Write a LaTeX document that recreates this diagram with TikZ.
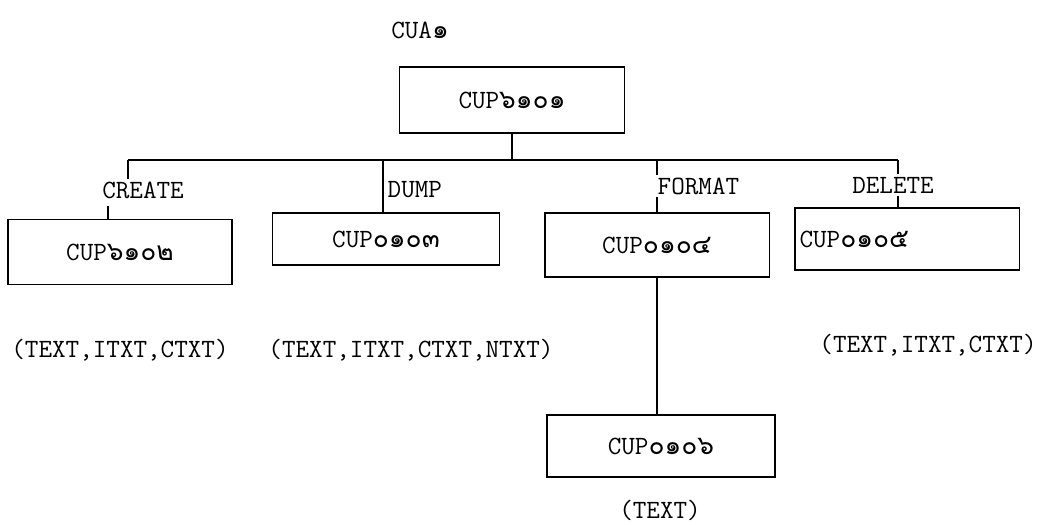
\documentclass[tikz,border=0pt]{standalone}
\usepackage{fontspec}
\newfontfamily\thaifont[Script=Thai]{Loma}
\newcommand{\tdig}[1]{{\thaifont #1}}
\usetikzlibrary{positioning}

\tikzset{
    prog/.style={draw,line width=1.1pt,minimum width=4.5cm,inner sep=2pt},
    word/.style={inner sep=1pt},
}

\begin{document}
\begin{tikzpicture}[x=0.02cm,y=-0.02cm,line width=1.1pt,
    every node/.style={font=\ttfamily\fontsize{15}{17}\selectfont}]

            \useasboundingbox (0,0) rectangle (1053,524);

            \node[word] (cua) at (420,30) {CUA\tdig{๑}};

            \node[prog,minimum height=1.32cm] (top) at (512,100) {CUP\tdig{๖๑๐๑}};

            \node[prog,minimum width=4.48cm,minimum height=1.3cm] (create) at (120,252) {CUP\tdig{๖๑๐๒}};
            \node[prog,minimum width=4.54cm,minimum height=1.04cm] (dump) at (386,239) {CUP\tdig{๐๑๐๓}};
            \node[prog,minimum height=1.28cm] (format) at (657,245) {CUP\tdig{๐๑๐๔}};
            \node[prog,minimum height=1.24cm,text width=4.3cm,align=left] (delete) at (907,239) {CUP\tdig{๐๑๐๕}};
            \node[prog,minimum width=4.56cm,minimum height=1.24cm] (sub) at (661,446) {CUP\tdig{๐๑๐๖}};

            \node[word] (lcreate) at (143,190) {CREATE};
            \node[word,anchor=west] (ldump) at (385,190) {DUMP};
            \node[word,anchor=west] (lformat) at (655,186) {FORMAT};
            \node[word] (ldelete) at (893,185) {DELETE};

            % bus under the top box
            \coordinate (bl) at (128,160);
            \coordinate (br) at (898,160);
            \coordinate (bd) at (383,160);
            \coordinate (bf) at (657,160);
            \coordinate (tc) at (108,206);

            \draw (top.south) -- (top.south |- bl);
            \draw (bl) -- (br);
            \draw (bl) -- (bl |- lcreate.north);
            \draw (tc) -- (tc |- create.north);
            \draw (bd) -- (bd |- dump.north);
            \draw (bf) -- (bf |- lformat.north);
            \draw (bf |- lformat.south) -- (bf |- format.north);
            \draw (br) -- (br |- ldelete.north);
            \draw (br |- ldelete.south) -- (br |- delete.north);

            \draw (format.south) -- (format.south |- sub.north);

            \node[word] (pcreate) at (120,350) {(TEXT,ITXT,CTXT)};
            \node[word] (pdump) at (411,350) {(TEXT,ITXT,CTXT,NTXT)};
            \node[word] (pdelete) at (928,345) {(TEXT,ITXT,CTXT)};
            \node[word] (psub) at (660,510) {(TEXT)};
        \end{tikzpicture}
\end{document}
